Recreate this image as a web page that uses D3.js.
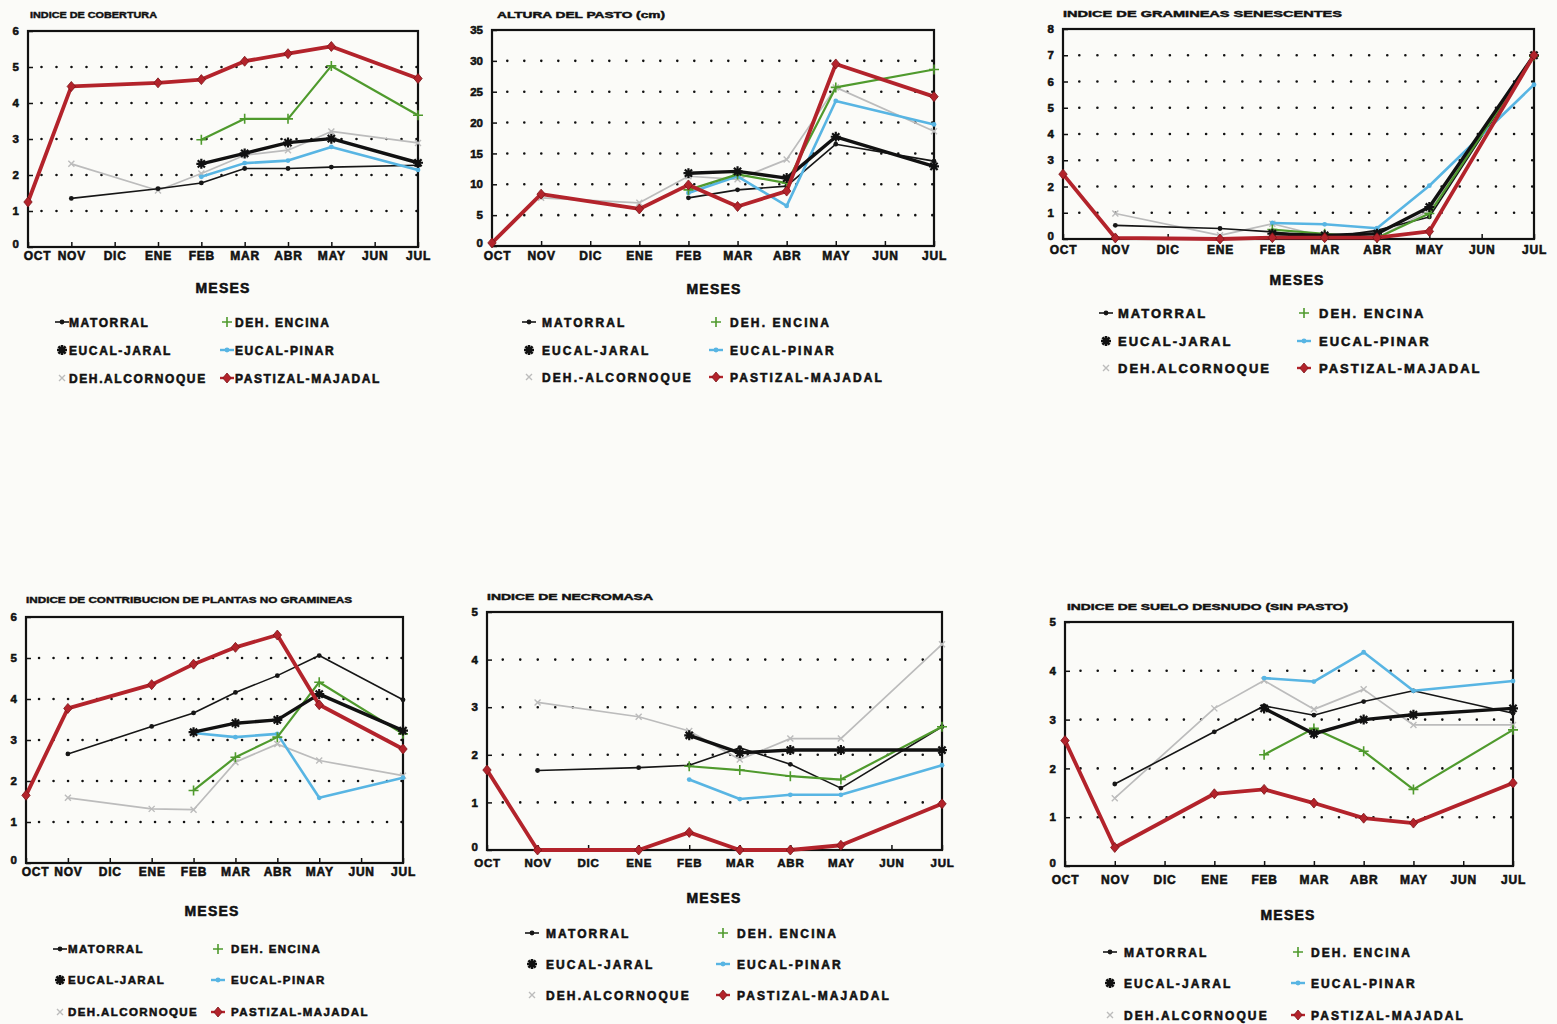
<!DOCTYPE html>
<html>
<head>
<meta charset="utf-8">
<script src="https://cdn.jsdelivr.net/npm/d3@7"></script>
<style>
  body { margin: 0; background: #fbfbf8; }
  text { font-family: "Liberation Sans", Arial, sans-serif; font-weight: bold; fill: #111; stroke: #111; stroke-width: 0.55px; }
</style>
</head>
<body>
<svg id="chart" width="1557" height="1024"></svg>
<script>
// Months of the sampling campaign (October to July)
const months = ["OCT", "NOV", "DIC", "ENE", "FEB", "MAR", "ABR", "MAY", "JUN", "JUL"];

// Vegetation units, in legend order
const units = ["MATORRAL", "DEH. ENCINA", "EUCAL-JARAL", "EUCAL-PINAR", "DEH.ALCORNOQUE", "PASTIZAL-MAJADAL"];

// Values per unit (same order as `units`), one entry per month; null = not sampled
const cobertura = [
  [null, 1.35, null, 1.62, 1.78, 2.18, 2.18, 2.22, null, 2.27],
  [null, null, null, null, 2.98, 3.56, 3.56, 5.03, null, 3.66],
  [null, null, null, null, 2.31, 2.60, 2.90, 3.01, null, 2.34],
  [null, null, null, null, 1.95, 2.33, 2.40, 2.78, null, 2.14],
  [null, 2.31, null, 1.57, 2.04, 2.55, 2.69, 3.21, null, 2.89],
  [1.25, 4.46, null, 4.56, 4.65, 5.16, 5.37, 5.57, null, 4.68]
];
const alturaPasto = [
  [null, null, null, null, 7.8, 9.1, 9.7, 16.5, null, 13.75],
  [null, null, null, null, 9.1, 11.6, 10.2, 25.7, null, 28.6],
  [null, null, null, null, 11.8, 12.1, 11.0, 17.7, null, 12.9],
  [null, null, null, null, 8.6, 11.3, 6.5, 23.5, null, 19.7],
  [null, 7.8, null, 7.0, 11.3, 10.8, 14.0, 25.7, null, 18.6],
  [0.5, 8.4, null, 6.0, 9.9, 6.4, 8.9, 29.5, null, 24.2]
];
const senescentes = [
  [null, 0.52, null, 0.40, 0.27, 0.05, 0.33, 0.84, null, 6.96],
  [null, null, null, null, 0.36, 0.20, 0.04, 0.97, null, 6.96],
  [null, null, null, null, 0.20, 0.14, 0.20, 1.22, null, 7.00],
  [null, null, null, null, 0.61, 0.56, 0.41, 2.03, null, 5.88],
  [null, 0.97, null, 0.14, 0.58, 0.08, 0.05, 1.09, null, 7.00],
  [2.47, 0.04, null, 0.00, 0.05, 0.05, 0.05, 0.29, null, 7.00]
];
const noGramineas = [
  [null, 2.66, null, 3.33, 3.66, 4.16, 4.57, 5.06, null, 3.98],
  [null, null, null, null, 1.77, 2.58, 3.07, 4.41, null, 3.15],
  [null, null, null, null, 3.19, 3.41, 3.49, 4.12, null, 3.23],
  [null, null, null, null, 3.17, 3.07, 3.15, 1.59, null, 2.08],
  [null, 1.59, null, 1.32, 1.30, 2.46, 2.90, 2.50, null, 2.13],
  [1.65, 3.77, null, 4.35, 4.85, 5.26, 5.56, 3.86, null, 2.78]
];
const necromasa = [
  [null, 1.67, null, 1.73, 1.78, 2.15, 1.80, 1.30, null, 2.59],
  [null, null, null, null, 1.76, 1.68, 1.55, 1.48, null, 2.59],
  [null, null, null, null, 2.41, 2.04, 2.10, 2.10, null, 2.10],
  [null, null, null, null, 1.48, 1.07, 1.16, 1.16, null, 1.78],
  [null, 3.10, null, 2.80, 2.50, 1.90, 2.34, 2.34, null, 4.32],
  [1.68, 0.00, null, 0.00, 0.37, 0.00, 0.00, 0.10, null, 0.97]
];
const sueloDesnudo = [
  [null, 1.68, null, 2.75, 3.28, 3.09, 3.37, 3.59, null, 3.13],
  [null, null, null, null, 2.28, 2.82, 2.35, 1.57, null, 2.79],
  [null, null, null, null, 3.23, 2.71, 3.00, 3.10, null, 3.23],
  [null, null, null, null, 3.85, 3.78, 4.38, 3.59, null, 3.79],
  [null, 1.39, null, 3.23, 3.80, 3.21, 3.62, 2.89, null, 2.89],
  [2.57, 0.38, null, 1.48, 1.57, 1.29, 0.98, 0.88, null, 1.70]
];

// Panel titles and y-axis ticks
const titles = [
  "INDICE DE COBERTURA",
  "ALTURA DEL PASTO (cm)",
  "INDICE DE GRAMINEAS SENESCENTES",
  "INDICE DE CONTRIBUCION DE PLANTAS NO GRAMINEAS",
  "INDICE DE NECROMASA",
  "INDICE DE SUELO DESNUDO (SIN PASTO)"
];
const yTicksCobertura = [0, 1, 2, 3, 4, 5, 6];
const yTicksAltura = [0, 5, 10, 15, 20, 25, 30, 35];
const yTicksSenescentes = [0, 1, 2, 3, 4, 5, 6, 7, 8];
const yTicksNoGramineas = [0, 1, 2, 3, 4, 5, 6];
const yTicksNecromasa = [0, 1, 2, 3, 4, 5];
const yTicksSuelo = [0, 1, 2, 3, 4, 5];

// Line / marker style per unit
const unitStyle = [
  { color: "#161616", width: 1.6, marker: "dot" },
  { color: "#4f9a2d", width: 2.2, marker: "plus" },
  { color: "#111111", width: 3.4, marker: "star" },
  { color: "#58b5e3", width: 2.6, marker: "dot" },
  { color: "#bcbcbc", width: 1.7, marker: "cross" },
  { color: "#b3232b", width: 3.8, marker: "diamond" }
];
const drawOrder = [4, 0, 3, 1, 2, 5];

// Panel layout
const panels = [
  { values: cobertura, ticks: yTicksCobertura, title: titles[0],
    box: [28, 418, 31, 247], titleAt: [30, 18, 127], xLab: 16, octShift: 9,
    meses: [223, 293], legend: { m1: 62, t1: 67, m2: 227, t2: 233, rows: [322, 350, 378], fs: 12, ls: 1.6 } },
  { values: alturaPasto, ticks: yTicksAltura, title: titles[1],
    box: [492, 934, 30, 246], titleAt: [497, 18, 168], xLab: 17, octShift: 5, alcLabel: "DEH.-ALCORNOQUE",
    meses: [714, 294], legend: { m1: 529, t1: 540, m2: 716, t2: 728, rows: [322, 350, 377], fs: 12, ls: 2.1 } },
  { values: senescentes, ticks: yTicksSenescentes, title: titles[2],
    box: [1063, 1534, 29, 239], titleAt: [1063, 17, 279], xLab: 18, octShift: 0,
    meses: [1297, 285], legend: { m1: 1106, t1: 1116, m2: 1304, t2: 1317, rows: [313, 341, 368], fs: 13, ls: 2.0 } },
  { values: noGramineas, ticks: yTicksNoGramineas, title: titles[3],
    box: [26, 403, 617, 863], titleAt: [26, 603, 326], xLab: 16, octShift: 9,
    meses: [212, 916], legend: { m1: 60, t1: 66, m2: 218, t2: 229, rows: [949, 980, 1012], fs: 11.5, ls: 1.4 } },
  { values: necromasa, ticks: yTicksNecromasa, title: titles[4],
    box: [487, 942, 612, 850], titleAt: [487, 600, 166], xLab: 20, xFs: 11.5, octShift: 0,
    meses: [714, 903], legend: { m1: 532, t1: 544, m2: 723, t2: 735, rows: [933, 964, 995], fs: 12, ls: 2.1 } },
  { values: sueloDesnudo, ticks: yTicksSuelo, title: titles[5],
    box: [1065, 1513, 622, 866], titleAt: [1067, 610, 281], xLab: 21, octShift: 0,
    meses: [1288, 920], legend: { m1: 1110, t1: 1122, m2: 1298, t2: 1309, rows: [952, 983, 1015], fs: 12, ls: 2.1 } }
];

const svg = d3.select("#chart");

function drawMarker(g, type, color, x, y, legend) {
  const m = g.append("g").attr("transform", `translate(${x},${y})`);
  if (type === "dot") {
    m.append("circle").attr("r", 2.4).attr("fill", color);
  } else if (type === "plus") {
    m.append("path").attr("d", "M-5,0H5M0,-5V5").attr("stroke", color).attr("stroke-width", 1.6).attr("fill", "none");
  } else if (type === "cross") {
    m.append("path").attr("d", "M-3,-3L3,3M-3,3L3,-3").attr("stroke", color).attr("stroke-width", 1.4).attr("fill", "none");
  } else if (type === "star") {
    m.append("path").attr("d", "M-5,0H5M0,-5V5M-3.6,-3.6L3.6,3.6M-3.6,3.6L3.6,-3.6")
      .attr("stroke", color).attr("stroke-width", legend ? 2.6 : 2.2).attr("fill", "none");
  } else if (type === "diamond") {
    m.append("path").attr("d", "M0,-5L4.2,0L0,5L-4.2,0Z").attr("fill", color)
      .attr("stroke", "#7a1418").attr("stroke-width", 0.8);
  }
}

panels.forEach(p => {
  const [x0, x1, y0, y1] = p.box;
  const g = svg.append("g");
  const yMax = p.ticks[p.ticks.length - 1];

  const x = d3.scalePoint().domain(months).range([x0, x1]);
  const y = d3.scaleLinear().domain([0, yMax]).range([y1, y0]);

  // Title
  g.append("text").attr("x", p.titleAt[0]).attr("y", p.titleAt[1])
    .attr("font-size", 9.5).attr("textLength", p.titleAt[2]).attr("lengthAdjust", "spacingAndGlyphs")
    .style("stroke-width", "0.45px")
    .text(p.title);

  // Dotted grid at interior ticks
  const spacing = (x1 - x0) / 26;
  g.append("g").selectAll("line")
    .data(p.ticks.filter(t => t > 0 && t < yMax))
    .join("line")
    .attr("x1", x0 + spacing * 0.9).attr("x2", x1)
    .attr("y1", d => y(d)).attr("y2", d => y(d))
    .attr("stroke", "#111").attr("stroke-width", 2.6)
    .attr("stroke-linecap", "round")
    .attr("stroke-dasharray", `0 ${spacing}`);

  // Axes
  const yAxis = g.append("g").attr("transform", `translate(${x0},0)`)
    .call(d3.axisLeft(y).tickValues(p.ticks).tickFormat(d3.format("d")).tickSize(-5).tickPadding(12));
  const xAxis = g.append("g").attr("transform", `translate(0,${y1})`)
    .call(d3.axisBottom(x).tickSize(-5).tickPadding(p.xLab - 5));
  [yAxis, xAxis].forEach(a => {
    a.select(".domain").remove();
    a.selectAll(".tick line").attr("stroke", "#111").attr("stroke-width", 1.5);
    a.selectAll("text").attr("fill", "#111").attr("font-family", '"Liberation Sans", Arial, sans-serif')
      .attr("font-weight", "bold");
  });
  yAxis.selectAll("text").attr("font-size", 11.5).attr("dx", 3)
    .attr("dy", d => d === 0 ? "0.05em" : "0.32em");
  xAxis.selectAll("text").attr("font-size", p.xFs || 12).attr("dy", "0.2em").attr("letter-spacing", 0.8)
    .attr("dx", d => d === months[0] ? p.octShift : 0);

  // Plot frame
  g.append("rect").attr("x", x0).attr("y", y0).attr("width", x1 - x0).attr("height", y1 - y0)
    .attr("fill", "none").attr("stroke", "#111").attr("stroke-width", 2.2);

  // Series
  const line = d3.line().x(d => x(d.m)).y(d => y(d.v));
  drawOrder.forEach(i => {
    const st = unitStyle[i];
    const pts = months.map((m, k) => ({ m, v: p.values[i][k] })).filter(d => d.v !== null);
    g.append("path").datum(pts).attr("d", line)
      .attr("fill", "none").attr("stroke", st.color).attr("stroke-width", st.width)
      .attr("stroke-linejoin", "round").attr("stroke-linecap", "round");
    pts.forEach(d => drawMarker(g, st.marker, st.color, x(d.m), y(d.v), false));
  });

  // X-axis caption
  g.append("text").attr("x", p.meses[0]).attr("y", p.meses[1]).attr("text-anchor", "middle")
    .attr("font-size", 14).attr("letter-spacing", 1.2).text("MESES");

  // Legend: two columns of three entries
  const L = p.legend;
  const legendCols = [[0, 2, 4], [1, 3, 5]];
  legendCols.forEach((col, c) => {
    col.forEach((i, r) => {
      const st = unitStyle[i];
      const mx = c === 0 ? L.m1 : L.m2;
      const tx = c === 0 ? L.t1 : L.t2;
      const ry = L.rows[r];
      if (st.marker === "dot" || st.marker === "diamond") {
        g.append("line").attr("x1", mx - 7).attr("x2", mx + 7).attr("y1", ry).attr("y2", ry)
          .attr("stroke", st.color).attr("stroke-width", Math.min(st.width, 2.4));
      }
      drawMarker(g, st.marker, st.color, mx, ry, true);
      const label = (i === 4 && p.alcLabel) ? p.alcLabel : units[i];
      g.append("text").attr("x", tx + 2).attr("y", ry + L.fs * 0.38)
        .attr("font-size", L.fs).attr("letter-spacing", L.ls).text(label);
    });
  });
});
</script>
</body>
</html>
